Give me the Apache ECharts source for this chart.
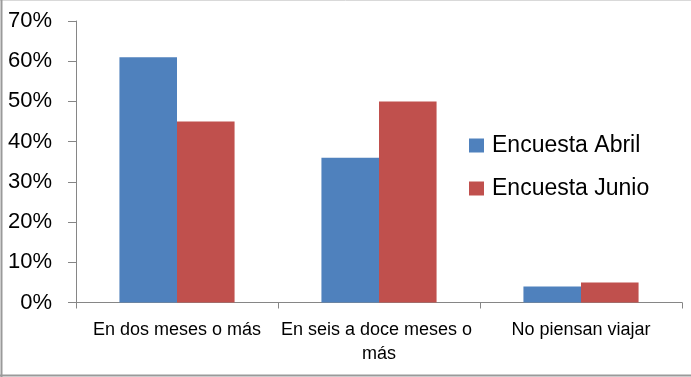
<!DOCTYPE html>
<html>
<head>
<meta charset="utf-8">
<script src="https://cdn.jsdelivr.net/npm/echarts@6/dist/echarts.min.js"></script>
<style>
  html, body { margin: 0; padding: 0; background: #fff; }
  #chart { width: 691px; height: 377px; }
</style>
</head>
<body>
<div id="chart"></div>
<script>
// Survey answers: when respondents plan to travel
const categories = ['En dos meses o más', 'En seis a doce meses o más', 'No piensan viajar'];
const seriesNames = ['Encuesta Abril', 'Encuesta Junio'];
const abril = [61, 36, 4];
const junio = [45, 50, 5];
const yTicks = [0, 10, 20, 30, 40, 50, 60, 70];

const FONT = '"Liberation Sans", Arial, sans-serif';
const AXIS_GREY = '#868686';

const chart = echarts.init(document.getElementById('chart'), null, { renderer: 'canvas' });

chart.setOption({
  animation: false,
  backgroundColor: '#ffffff',
  textStyle: { fontFamily: FONT },
  graphic: [
    // outer frame of the chart area
    { type: 'line', shape: { x1: 0, y1: 0.5, x2: 691, y2: 0.5 }, style: { stroke: '#d9d9d9', lineWidth: 1 } },
    { type: 'line', shape: { x1: 1.5, y1: 0, x2: 1.5, y2: 377 }, style: { stroke: '#9a9a9a', lineWidth: 2 } },
    { type: 'line', shape: { x1: 0, y1: 375.5, x2: 691, y2: 375.5 }, style: { stroke: '#9a9a9a', lineWidth: 2 } }
  ],
  grid: { left: 76, right: 9, top: 21, bottom: 74.5, containLabel: false },
  legend: {
    orient: 'vertical',
    left: 464,
    top: 129,
    itemWidth: 15,
    itemHeight: 14,
    itemGap: 20,
    icon: 'rect',
    data: seriesNames,
    textStyle: { fontFamily: FONT, fontSize: 23, color: '#000', lineHeight: 23, padding: [0, 0, 0, 3] }
  },
  xAxis: {
    type: 'category',
    data: categories,
    boundaryGap: true,
    axisLine: { lineStyle: { color: AXIS_GREY, width: 1 } },
    axisTick: { show: true, length: 6, lineStyle: { color: AXIS_GREY } },
    axisLabel: {
      interval: 0,
      margin: 16,
      color: '#000',
      fontFamily: FONT,
      fontSize: 18,
      lineHeight: 24,
      width: 200,
      overflow: 'break'
    }
  },
  yAxis: {
    type: 'value',
    min: yTicks[0],
    max: yTicks[yTicks.length - 1],
    interval: 10,
    axisLine: { show: true, lineStyle: { color: AXIS_GREY, width: 1 } },
    axisTick: { show: true, length: 8, lineStyle: { color: AXIS_GREY } },
    splitLine: { show: false },
    axisLabel: {
      margin: 24,
      color: '#000',
      fontFamily: FONT,
      fontSize: 22,
      formatter: v => v + '%'
    }
  },
  series: [
    {
      name: seriesNames[0],
      type: 'bar',
      data: abril,
      barGap: '0%',
      barCategoryGap: '43%',
      itemStyle: { color: '#4F81BD' }
    },
    {
      name: seriesNames[1],
      type: 'bar',
      data: junio,
      barGap: '0%',
      barCategoryGap: '43%',
      itemStyle: { color: '#C0504D' }
    }
  ]
});
</script>
</body>
</html>
